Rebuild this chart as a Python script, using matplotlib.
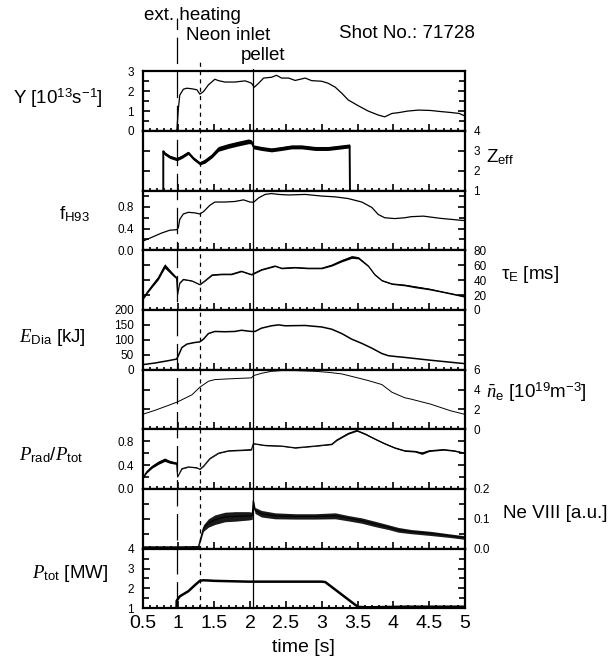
import matplotlib
matplotlib.use('Agg')
import matplotlib.pyplot as plt
import numpy as np
from matplotlib.lines import Line2D
from matplotlib.ticker import MultipleLocator
from matplotlib.transforms import blended_transform_factory

plt.rcParams['font.family'] = ['Liberation Sans', 'DejaVu Sans']
plt.rcParams['mathtext.fontset'] = 'custom'
plt.rcParams['mathtext.rm'] = 'Liberation Sans'
plt.rcParams['mathtext.sf'] = 'Liberation Sans'
plt.rcParams['mathtext.it'] = 'Liberation Serif:italic'
plt.rcParams['mathtext.bf'] = 'Liberation Sans:bold'
plt.rcParams['lines.scale_dashes'] = False

# ---------------- data ----------------
shot_no = "71728"
event_t = [0.98, 1.30, 2.04]
event_names = ["ext. heating", "Neon inlet", "pellet"]

Y_t = [0.5, 0.97, 0.98, 1.0, 1.02, 1.07, 1.12, 1.19, 1.26, 1.30, 1.35, 1.42, 1.51, 1.56, 1.65,
       1.79, 1.93, 1.98, 2.02, 2.06, 2.12, 2.19, 2.30, 2.37, 2.44, 2.54, 2.63, 2.77, 2.86, 3.0,
       3.09, 3.19, 3.28, 3.37, 3.51, 3.65, 3.79, 3.88, 3.98, 4.07, 4.2, 4.35, 4.52, 4.65, 4.8,
       4.92, 5.0]
Y_v = [0, 0, 0.05, 1.1, 1.8, 2.1, 2.15, 2.12, 2.07, 1.85, 1.98, 2.32, 2.6, 2.53, 2.46,
       2.46, 2.52, 2.46, 2.4, 2.2, 2.4, 2.66, 2.7, 2.8, 2.66, 2.66, 2.54, 2.66, 2.53, 2.5,
       2.4, 2.2, 1.9, 1.56, 1.27, 1.0, 0.8, 0.71, 0.88, 0.92, 1.0, 1.05, 1.03, 0.98, 0.93,
       0.88, 0.75]

Zeff_t = [0.79, 0.79, 0.81, 0.88, 0.98, 1.05, 1.14, 1.21, 1.30, 1.37, 1.47, 1.56, 1.70, 1.84,
          1.98, 2.02, 2.05, 2.16, 2.30, 2.44, 2.58, 2.72, 2.91, 3.09, 3.28, 3.39, 3.395]
Zeff_v = [1.0, 2.98, 2.87, 2.70, 2.58, 2.70, 2.90, 2.62, 2.37, 2.48, 2.75, 3.10, 3.25, 3.37,
          3.48, 3.45, 3.20, 3.12, 3.05, 3.12, 3.20, 3.20, 3.12, 3.12, 3.20, 3.25, 1.0]
Zeff_w = [0, 0.08, 0.08, 0.08, 0.08, 0.08, 0.08, 0.08, 0.08, 0.1, 0.1, 0.12, 0.12, 0.12,
          0.12, 0.1, 0.1, 0.1, 0.1, 0.1, 0.1, 0.1, 0.1, 0.1, 0.1, 0.1, 0]

fH_t = [0.5, 0.63, 0.77, 0.88, 0.98, 1.0, 1.02, 1.07, 1.14, 1.23, 1.30, 1.35, 1.44, 1.51, 1.65,
        1.79, 1.91, 2.0, 2.05, 2.12, 2.21, 2.30, 2.40, 2.54, 2.77, 3.0, 3.19, 3.37, 3.56, 3.70,
        3.79, 3.88, 4.02, 4.16, 4.25, 4.42, 4.65, 4.97, 5.0]
fH_v = [0.166, 0.24, 0.32, 0.37, 0.38, 0.42, 0.57, 0.67, 0.70, 0.69, 0.67, 0.71, 0.83, 0.89, 0.89,
        0.90, 0.93, 0.89, 0.886, 0.966, 1.03, 1.046, 1.03, 1.02, 1.03, 1.0, 0.985, 0.954, 0.89, 0.79,
        0.66, 0.60, 0.585, 0.60, 0.62, 0.63, 0.59, 0.55, 0.55]

tau_t = [0.5, 0.56, 0.63, 0.72, 0.81, 0.86, 0.93, 0.975, 0.99, 1.02, 1.07, 1.19, 1.30, 1.37,
         1.47, 1.61, 1.74, 1.88, 2.02, 2.16, 2.35, 2.44, 2.63, 2.81, 3.0, 3.14, 3.28, 3.42,
         3.51, 3.65, 3.74, 3.84, 3.98, 4.16, 4.3, 4.5, 4.7, 5.0]
tau_v = [14, 23, 32, 43, 59, 54, 47, 43, 21, 36, 41, 39, 34, 39,
         47, 48, 48, 52, 47.5, 54, 59, 56, 57, 56, 56, 60, 66, 71,
         70, 59, 47.5, 39.5, 35, 33.3, 31, 28, 24, 18]
tau_w = [1, 1.5, 2, 2.5, 3, 2.5, 2, 1.5, 0.5, 0.5, 0.5, 0.5, 0.5, 0.5,
         0.8, 0.8, 0.8, 0.8, 0.8, 0.8, 0.8, 0.8, 0.8, 0.8, 0.8, 1.2, 1.5, 1.8,
         1.5, 1, 1, 0.8, 0.8, 1, 1.2, 1, 0.8, 1]

E_t = [0.5, 0.67, 0.86, 0.977, 1.0, 1.05, 1.12, 1.23, 1.30, 1.35, 1.42, 1.51, 1.65, 1.79, 1.88,
       2.02, 2.07, 2.16, 2.30, 2.40, 2.49, 2.77, 3.0, 3.14, 3.28, 3.42, 3.56, 3.70, 3.84, 3.93,
       4.07, 4.16, 4.5, 5.0]
E_v = [16.7, 22, 30, 35.5, 46.7, 74, 85.6, 91, 93, 102, 121, 128, 127, 128, 132,
       128, 128, 139, 147, 150, 147, 148, 143, 135.5, 121, 102, 88, 72, 54, 46.7,
       43, 41, 32, 20]

ne_t = [0.5, 0.67, 0.86, 0.98, 1.05, 1.19, 1.30, 1.42, 1.51, 1.70, 1.88, 2.02, 2.05, 2.16, 2.30,
        2.44, 2.63, 2.91, 3.09, 3.28, 3.47, 3.65, 3.84, 3.98, 4.16, 4.25, 4.52, 4.8, 5.0]
ne_v = [1.5, 1.9, 2.4, 2.73, 2.97, 3.47, 4.23, 4.83, 5.0, 5.07, 5.13, 5.17, 5.4, 5.63, 5.83,
        5.9, 5.9, 5.83, 5.73, 5.57, 5.23, 4.9, 4.5, 3.73, 3.17, 3.03, 2.53, 1.86, 1.5]

Prad_t = [0.5, 0.56, 0.63, 0.72, 0.81, 0.88, 0.977, 0.99, 1.05, 1.14, 1.26, 1.30, 1.35, 1.44,
          1.56, 1.70, 1.88, 2.02, 2.047, 2.21, 2.44, 2.63, 2.91, 3.14, 3.21, 3.37, 3.49, 3.61,
          3.74, 3.88, 4.02, 4.16, 4.3, 4.4, 4.5, 4.7, 4.85, 5.0]
Prad_v = [0.18, 0.29, 0.37, 0.44, 0.49, 0.455, 0.43, 0.2, 0.34, 0.37, 0.355, 0.33, 0.38, 0.51,
          0.60, 0.64, 0.65, 0.66, 0.76, 0.73, 0.72, 0.69, 0.72, 0.75, 0.82, 0.93, 0.98, 0.92,
          0.84, 0.76, 0.69, 0.64, 0.63, 0.60, 0.64, 0.66, 0.64, 0.60]
Prad_w = [0.012, 0.02, 0.024, 0.028, 0.028, 0.024, 0.02, 0.0, 0.006, 0.005, 0.005, 0.005, 0.005, 0.006,
          0.006, 0.006, 0.008, 0.008, 0.006, 0.006, 0.006, 0.006, 0.006, 0.008, 0.01, 0.012, 0.012, 0.012,
          0.01, 0.01, 0.01, 0.01, 0.012, 0.02, 0.012, 0.01, 0.01, 0.01]

Ne_t = [0.5, 1.0, 1.28, 1.30, 1.35, 1.42, 1.51, 1.65, 1.79, 1.98, 2.03, 2.045, 2.07, 2.16, 2.35,
        2.63, 2.91, 3.19, 3.37, 3.56, 3.74, 3.93, 4.07, 4.25, 4.52, 4.8, 5.0]
Ne_v = [0.005, 0.005, 0.006, 0.024, 0.069, 0.086, 0.097, 0.106, 0.108, 0.110, 0.110, 0.160, 0.128,
        0.117, 0.110, 0.108, 0.108, 0.110, 0.102, 0.094, 0.083, 0.072, 0.063, 0.057, 0.051, 0.043,
        0.037]
Ne_w = [0.004, 0.004, 0.004, 0.006, 0.011, 0.014, 0.016, 0.016, 0.016, 0.014, 0.012, 0.008, 0.010,
        0.011, 0.010, 0.009, 0.009, 0.010, 0.009, 0.009, 0.009, 0.008, 0.008, 0.007, 0.007, 0.006,
        0.006]

Ptot_t = [0.5, 0.975, 0.977, 1.02, 1.14, 1.23, 1.30, 1.35, 1.51, 1.98, 2.44, 3.0, 3.05, 3.47,
          3.51, 3.65, 4.16, 5.0]
Ptot_v = [1.0, 1.0, 1.38, 1.6, 1.86, 2.16, 2.38, 2.41, 2.38, 2.34, 2.34, 2.34, 2.32, 1.17,
          1.07, 1.05, 1.08, 1.08]

x_ticks = [0.5, 1, 1.5, 2, 2.5, 3, 3.5, 4, 4.5, 5]
x_ticklabels = ["0.5", "1", "1.5", "2", "2.5", "3", "3.5", "4", "4.5", "5"]

# ---------------- figure ----------------
W, H = 614, 665
fig = plt.figure(figsize=(W / 100, H / 100), dpi=100)
axes = fig.subplots(9, 1, sharex=True, gridspec_kw=dict(hspace=0))
fig.subplots_adjust(left=142.5 / W, right=465 / W, top=1 - 71.3 / H, bottom=1 - 608.3 / H)

# panel config: ylim, major, minor, label side
cfg = [
    ((0, 3), 1, 0.5, 'left', [0, 1, 2, 3], None),
    ((1, 4), 1, None, 'right', [1, 2, 3, 4], None),
    ((0, 1.1), 0.4, 0.2, 'left', [0.0, 0.4, 0.8], "{:.1f}"),
    ((0, 80), 20, None, 'right', [0, 20, 40, 60, 80], None),
    ((0, 200), 50, None, 'left', [0, 50, 100, 150, 200], None),
    ((0, 6), 2, None, 'right', [0, 2, 4, 6], None),
    ((0, 1.0), 0.4, 0.2, 'left', [0.0, 0.4, 0.8], "{:.1f}"),
    ((0, 0.2), 0.1, 0.05, 'right', [0.0, 0.1, 0.2], "{:.1f}"),
    ((1, 4), 1, 0.5, 'left', [1, 2, 3, 4], None),
]

for ax, (yl, maj, mnr, side, ticks, fmt) in zip(axes, cfg):
    ax.set_xlim(0.5, 5.0)
    ax.set_ylim(*yl)
    ax.set_yticks(ticks)
    if fmt:
        ax.set_yticklabels([fmt.format(v) for v in ticks])
    else:
        ax.set_yticklabels([str(v) for v in ticks])
    if mnr:
        ax.yaxis.set_minor_locator(MultipleLocator(mnr))
    ax.xaxis.set_major_locator(MultipleLocator(0.5))
    ax.xaxis.set_minor_locator(MultipleLocator(0.1))
    ax.tick_params(axis='y', which='both', direction='in', left=True, right=True,
                   labelleft=(side == 'left'), labelright=(side == 'right'),
                   labelsize=8.5, pad=6, width=1.2)
    ax.tick_params(axis='y', which='major', length=5)
    ax.tick_params(axis='y', which='minor', length=4)
    ax.tick_params(axis='x', which='both', direction='in', top=False, bottom=True, width=1.2,
                   labelbottom=False)
    ax.tick_params(axis='x', which='major', length=5)
    ax.tick_params(axis='x', which='minor', length=2.5)
    for s in ax.spines.values():
        s.set_linewidth(1.6)

axes[-1].set_xticks(x_ticks)
axes[-1].set_xticklabels(x_ticklabels)
axes[-1].tick_params(axis='x', labelbottom=True, labelsize=14, pad=5)


def band(ax, t, v, w, lw=0.9, color='k'):
    t = np.asarray(t, float)
    v = np.asarray(v, float)
    w = np.asarray(w, float)
    ax.fill_between(t, v - w, v + w, color=color, lw=0)
    ax.plot(t, v, color='k', lw=lw)


axes[0].plot(Y_t, Y_v, color='k', lw=0.9)
band(axes[1], Zeff_t, Zeff_v, Zeff_w, lw=1.4)
axes[2].plot(fH_t, fH_v, color='k', lw=0.9)
band(axes[3], tau_t, tau_v, tau_w, lw=0.8)
axes[4].plot(E_t, E_v, color='k', lw=1.1)
axes[5].plot(ne_t, ne_v, color='k', lw=0.7)
band(axes[6], Prad_t, Prad_v, Prad_w, lw=0.8)
band(axes[7], Ne_t, Ne_v, Ne_w, lw=0.8, color='0.1')
axes[8].plot(Ptot_t, Ptot_v, color='k', lw=1.8)

# event marker lines spanning the whole stack
trans = blended_transform_factory(axes[-1].transData, fig.transFigure)
y_bot = 1 - 608.3 / H
line_tops = [1 - 18 / H, 1 - 60 / H, 1 - 69 / H]
line_styles = [dict(dashes=(19, 5.5), lw=0.9), dict(dashes=(3, 3), lw=0.9), dict(lw=0.9)]
for t, yt, st in zip(event_t, line_tops, line_styles):
    fig.add_artist(Line2D([t, t], [y_bot, yt], transform=trans, color='k', **st))

# texts at the top
fig.text(192 / W, 1 - 15 / H, event_names[0], ha='center', va='center', fontsize=13.5)
fig.text(228 / W, 1 - 35 / H, event_names[1], ha='center', va='center', fontsize=13.5)
fig.text(263 / W, 1 - 55 / H, event_names[2], ha='center', va='center', fontsize=13.5)
fig.text(407 / W, 1 - 33 / H, "Shot No.: " + shot_no, ha='center', va='center', fontsize=13.5)

# left labels
fig.text(57.5 / W, 1 - 98 / H, r"Y [10$^{13}$s$^{-1}$]", ha='center', va='center', fontsize=13.5)
fig.text(74 / W, 1 - 214 / H, r"f$_\mathrm{H93}$", ha='center', va='center', fontsize=13.5)
fig.text(52 / W, 1 - 337 / H, r"$E_\mathrm{Dia}$ [kJ]", ha='center', va='center', fontsize=13.5)
fig.text(51.5 / W, 1 - 455 / H, r"$P_\mathrm{rad}/P_\mathrm{tot}$", ha='center', va='center', fontsize=13.5)
fig.text(70.5 / W, 1 - 573 / H, r"$P_\mathrm{tot}$ [MW]", ha='center', va='center', fontsize=13.5)

# right labels
fig.text(486.5 / W, 1 - 157 / H, r"Z$_\mathrm{eff}$", ha='left', va='center', fontsize=13.5)
fig.text(501 / W, 1 - 275 / H, r"τ$_\mathrm{E}$ [ms]", ha='left', va='center', fontsize=13.5)
fig.text(486 / W, 1 - 392 / H, r"$\bar{n}_\mathrm{e}$ [10$^{19}$m$^{-3}$]", ha='left', va='center', fontsize=13.5)
fig.text(503 / W, 1 - 513 / H, "Ne VIII [a.u.]", ha='left', va='center', fontsize=13.5)

fig.text(303.7 / W, 1 - 648 / H, "time [s]", ha='center', va='center', fontsize=14)

fig.savefig("out.png", dpi=100, facecolor='white')
